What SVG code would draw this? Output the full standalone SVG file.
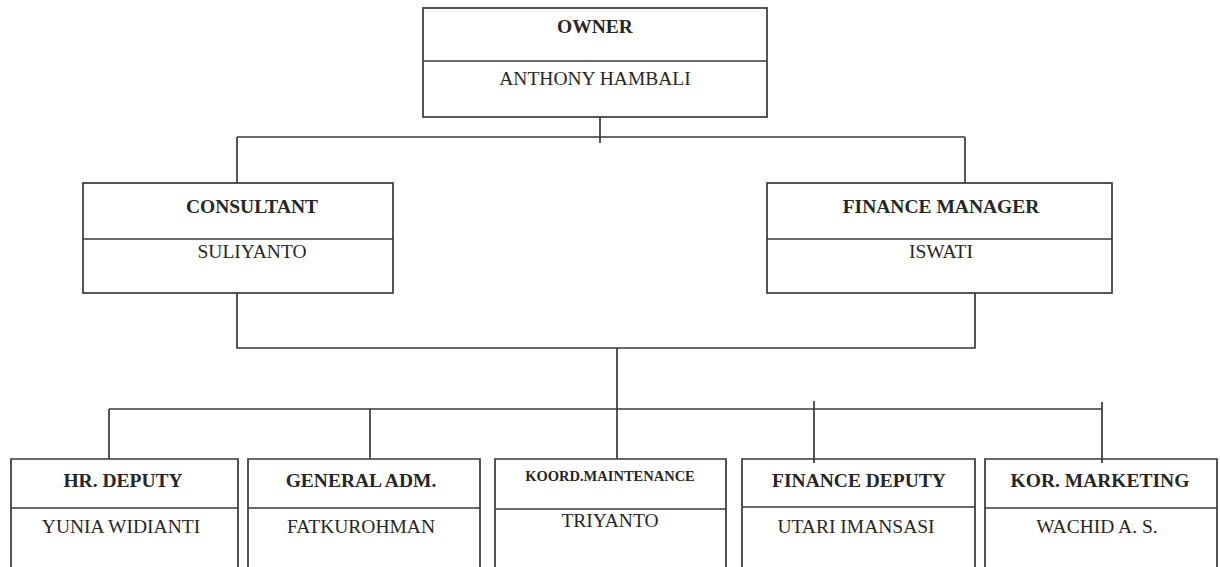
<svg xmlns="http://www.w3.org/2000/svg" width="1220" height="567" viewBox="0 0 1220 567">
<style>
.box{fill:none;stroke:#383838;stroke-width:1.7}
.ln{fill:none;stroke:#383838;stroke-width:1.7}
.t{font-family:"Liberation Serif","Times New Roman",serif;font-size:19.5px;fill:#262626;text-anchor:middle}
.b{font-weight:bold}
</style>
<rect width="1220" height="567" fill="#ffffff"/>
<g id="connectors">
<path class="ln" d="M600 117 V143"/>
<path class="ln" d="M237 137 H965"/>
<path class="ln" d="M237 137 V183"/>
<path class="ln" d="M965 137 V183"/>
<path class="ln" d="M237 293 V348 H975 V293"/>
<path class="ln" d="M617 348 V459"/>
<path class="ln" d="M109 409 H1102"/>
<path class="ln" d="M109 409 V459"/>
<path class="ln" d="M370 409 V459"/>
<path class="ln" d="M814 401 V463"/>
<path class="ln" d="M1102 402 V463"/>
</g>
<g id="owner">
<rect class="box" x="423" y="8" width="344" height="109"/>
<path class="ln" d="M423 61 H767"/>
<text class="t b" x="595" y="33">OWNER</text>
<text class="t" x="595" y="85">ANTHONY HAMBALI</text>
</g>
<g id="consultant">
<rect class="box" x="83" y="183" width="310" height="110"/>
<path class="ln" d="M83 239 H393"/>
<text class="t b" x="252" y="213">CONSULTANT</text>
<text class="t" x="252" y="258">SULIYANTO</text>
</g>
<g id="finance-manager">
<rect class="box" x="767" y="183" width="345" height="110"/>
<path class="ln" d="M767 239 H1112"/>
<text class="t b" x="941" y="213">FINANCE MANAGER</text>
<text class="t" x="941" y="258">ISWATI</text>
</g>
<g id="hr-deputy">
<path class="box" d="M11 580 V459 H238 V580"/>
<path class="ln" d="M11 508 H238"/>
<text class="t b" x="123" y="487">HR. DEPUTY</text>
<text class="t" x="121" y="533">YUNIA WIDIANTI</text>
</g>
<g id="general-adm">
<path class="box" d="M248 580 V459 H480 V580"/>
<path class="ln" d="M248 508 H480"/>
<text class="t b" x="361" y="487">GENERAL ADM.</text>
<text class="t" x="361" y="533">FATKUROHMAN</text>
</g>
<g id="koord-maintenance">
<path class="box" d="M495 580 V459 H726 V580"/>
<path class="ln" d="M495 509 H726"/>
<text class="t b" x="610" y="481" style="font-size:14.5px">KOORD.MAINTENANCE</text>
<text class="t" x="610" y="527">TRIYANTO</text>
</g>
<g id="finance-deputy">
<path class="box" d="M742 580 V459 H975 V580"/>
<path class="ln" d="M742 507 H975"/>
<text class="t b" x="859" y="487">FINANCE DEPUTY</text>
<text class="t" x="856" y="533">UTARI IMANSASI</text>
</g>
<g id="kor-marketing">
<path class="box" d="M985 580 V459 H1217 V580"/>
<path class="ln" d="M985 508 H1217"/>
<text class="t b" x="1100" y="487">KOR. MARKETING</text>
<text class="t" x="1097" y="533">WACHID A. S.</text>
</g>
</svg>
